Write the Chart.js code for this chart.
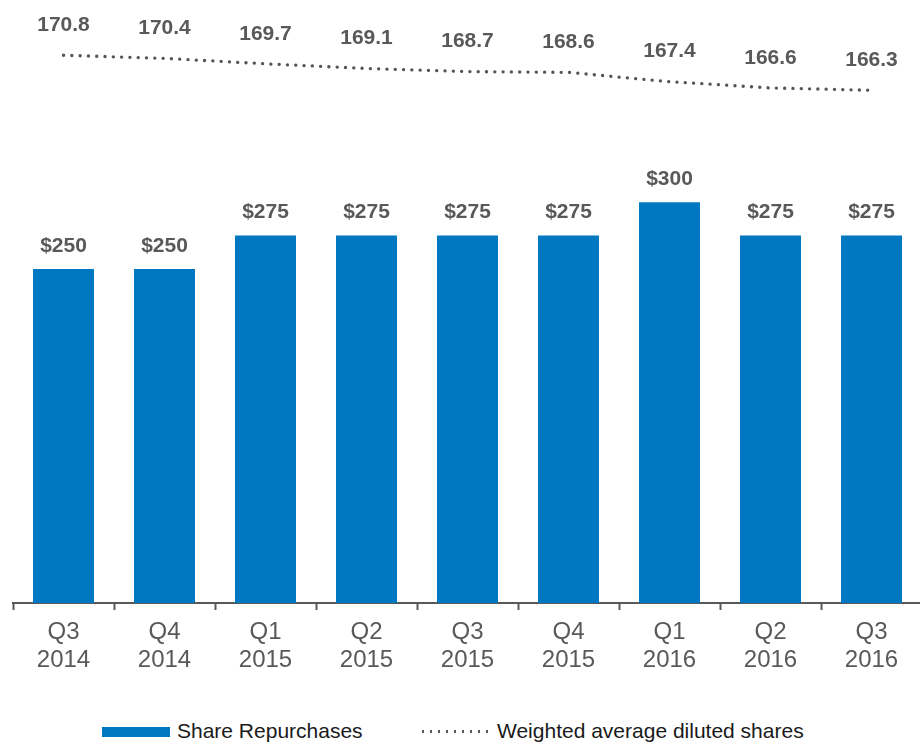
<!DOCTYPE html>
<html>
<head>
<meta charset="utf-8">
<script src="https://cdn.jsdelivr.net/npm/chart.js@4.4.0/dist/chart.umd.min.js"></script>
<style>
  body { margin: 0; background: #fff; font-family: "Liberation Sans", Arial, sans-serif; }
  #wrap { position: relative; width: 920px; height: 743px; overflow: hidden; }
  #box { position: absolute; left: 0; top: 0; width: 922px; height: 703px; }
  .legend { position: absolute; top: 719px; font-size: 21px; color: #1a1a1a; line-height: 24px; white-space: nowrap; }
  .swatch { position: absolute; top: 727px; left: 102px; width: 68px; height: 10px; background: #0078c1; }
  .dots { position: absolute; top: 730px; left: 419px; width: 70px; height: 3px;
          background-image: radial-gradient(circle, #595959 1.3px, transparent 1.5px);
          background-size: 8px 3px; }
</style>
</head>
<body>
<div id="wrap">
  <div id="box"><canvas id="chart"></canvas></div>
  <div class="swatch"></div>
  <div class="legend" style="left:177px">Share Repurchases</div>
  <div class="dots"></div>
  <div class="legend" style="left:497px">Weighted average diluted shares</div>
</div>
<script>
const quarters = ['Q3', 'Q4', 'Q1', 'Q2', 'Q3', 'Q4', 'Q1', 'Q2', 'Q3'];
const years = ['2014', '2014', '2015', '2015', '2015', '2015', '2016', '2016', '2016'];
const repurchases = [250, 250, 275, 275, 275, 275, 300, 275, 275];
const dilutedShares = [170.8, 170.4, 169.7, 169.1, 168.7, 168.6, 167.4, 166.6, 166.3];

const labels = quarters.map((q, i) => [q, years[i]]);

// draws the value labels above bars and above line points
const valueLabels = {
  id: 'valueLabels',
  afterDatasetsDraw(chart) {
    const ctx = chart.ctx;
    ctx.save();
    ctx.font = 'bold 21px "Liberation Sans", Arial, sans-serif';
    ctx.fillStyle = '#595959';
    ctx.textAlign = 'center';
    ctx.textBaseline = 'middle';
    chart.getDatasetMeta(0).data.forEach((bar, i) => {
      ctx.fillText('$' + repurchases[i], bar.x, bar.y - 23);
    });
    chart.getDatasetMeta(1).data.forEach((pt, i) => {
      ctx.fillText(dilutedShares[i].toFixed(1), pt.x, pt.y - 30);
    });
    ctx.restore();
  }
};

const ctx = document.getElementById('chart').getContext('2d');
const chart = new Chart(ctx, {
  type: 'bar',
  plugins: [valueLabels],
  data: {
    labels: labels,
    datasets: [
      {
        label: 'Share Repurchases',
        data: repurchases,
        backgroundColor: '#0078c1',
        barPercentage: 0.604,
        categoryPercentage: 1,
        yAxisID: 'y',
        order: 2
      },
      {
        type: 'line',
        label: 'Weighted average diluted shares',
        data: dilutedShares,
        borderColor: '#555555',
        borderWidth: 3.3,
        borderDash: [0.1, 8.2],
        borderCapStyle: 'round',
        pointRadius: 0,
        tension: 0,
        fill: false,
        yAxisID: 'y2',
        order: 1
      }
    ]
  },
  options: {
    responsive: true,
    maintainAspectRatio: false,
    animation: false,
    layout: { padding: { left: 13, right: 0, top: 0, bottom: 0 } },
    plugins: {
      legend: { display: false },
      tooltip: { enabled: false }
    },
    scales: {
      x: {
        offset: true,
        grid: {
          offset: true,
          drawOnChartArea: false,
          drawTicks: true,
          tickLength: 7,
          tickWidth: 2,
          tickColor: '#595959'
        },
        border: { color: '#595959', width: 2 },
        ticks: {
          color: '#595959',
          padding: 8,
          font: { size: 24, family: '"Liberation Sans", Arial, sans-serif', lineHeight: 1.17 }
        },
        afterFit: (scale) => { scale.height = 100; }
      },
      y: {
        display: false,
        min: 0,
        max: 451.3
      },
      y2: {
        display: false,
        min: 100.4,
        max: 177.9
      }
    }
  }
});
</script>
</body>
</html>
